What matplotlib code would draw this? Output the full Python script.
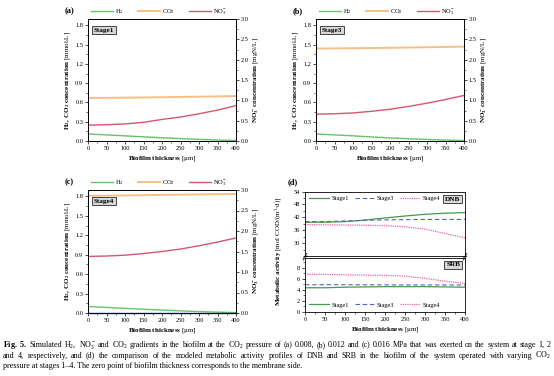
import matplotlib
matplotlib.use("Agg")
import matplotlib.pyplot as plt
from matplotlib.ticker import MultipleLocator

plt.rcParams['font.family'] = ['Liberation Serif', 'DejaVu Serif']
plt.rcParams['mathtext.fontset'] = 'custom'
plt.rcParams['mathtext.rm'] = 'Liberation Serif'
plt.rcParams['mathtext.it'] = 'Liberation Serif:italic'
plt.rcParams['mathtext.bf'] = 'Liberation Serif:bold'

# biofilm thickness [um]
x = [0, 50, 100, 150, 200, 250, 300, 350, 400]

# panels a-c : concentrations
h2_a = [0.11, 0.095, 0.08, 0.065, 0.05, 0.037, 0.025, 0.015, 0.008]
co2_a = [0.67, 0.672, 0.675, 0.678, 0.682, 0.686, 0.69, 0.695, 0.70]
no3_a = [0.39, 0.40, 0.42, 0.46, 0.53, 0.59, 0.67, 0.76, 0.87]

h2_b = [0.11, 0.095, 0.08, 0.063, 0.048, 0.035, 0.024, 0.014, 0.008]
co2_b = [1.44, 1.442, 1.445, 1.448, 1.452, 1.456, 1.46, 1.465, 1.47]
no3_b = [0.66, 0.67, 0.69, 0.73, 0.78, 0.85, 0.93, 1.02, 1.12]

h2_c = [0.10, 0.086, 0.072, 0.058, 0.045, 0.033, 0.022, 0.013, 0.007]
co2_c = [1.81, 1.813, 1.816, 1.82, 1.824, 1.828, 1.832, 1.836, 1.84]
no3_c = [1.38, 1.39, 1.41, 1.45, 1.50, 1.56, 1.64, 1.73, 1.83]
zero_c = [0, 0, 0, 0, 0, 0, 0, 0, 0]

# panel d : metabolic activity
dnb_s1 = [39.7, 39.7, 40.0, 40.7, 41.7, 42.6, 43.4, 43.9, 44.2]
dnb_s3 = [40.0, 40.0, 40.3, 40.6, 40.8, 40.9, 41.0, 41.0, 41.0]
dnb_s4 = [38.6, 38.5, 38.4, 38.3, 38.1, 37.6, 36.5, 34.5, 32.4]
srb_s1 = [4.4, 4.4, 4.5, 4.55, 4.6, 4.6, 4.6, 4.55, 4.5]
srb_s3 = [4.95, 4.95, 4.95, 4.94, 4.93, 4.92, 4.91, 4.9, 4.9]
srb_s4 = [6.85, 6.82, 6.75, 6.7, 6.65, 6.5, 6.1, 5.6, 5.2]

W, H = 554, 376
fig = plt.figure(figsize=(W / 100, H / 100), dpi=100)

FS = 4.6
c_h2, c_co2, c_no3 = '#66c466', '#f5bf86', '#d9566f'


def box(l, t, r, b):
    return [l / W, 1 - b / H, (r - l) / W, (b - t) / H]


def style(ax):
    ax.tick_params(labelsize=FS, length=2, width=0.5, pad=1.5, direction='out')
    ax.tick_params(which='minor', length=1.2, width=0.4)
    for s in ax.spines.values():
        s.set_linewidth(0.6)


def conc_panel(rect, letter, stage, h2, co2, no3, extra=None):
    ax = fig.add_axes(box(*rect))
    l1, = ax.plot(x, h2, color=c_h2, lw=1.0)
    l2, = ax.plot(x, co2, color=c_co2, lw=1.4)
    if extra is not None:
        ax.plot(x, extra, color='#1f3a8a', lw=1.0, clip_on=False, zorder=5)
    ax.set_xlim(0, 400)
    ax.set_ylim(0, 1.9)
    ax.yaxis.set_major_locator(MultipleLocator(0.3))
    ax.yaxis.set_minor_locator(MultipleLocator(0.15))
    ax.xaxis.set_major_locator(MultipleLocator(50))
    ax.xaxis.set_minor_locator(MultipleLocator(25))
    ax.yaxis.set_major_formatter(lambda v, p: f"{v:.1f}")
    style(ax)
    ax.set_xlabel(r"$\mathbf{Biofilm\ thickness}$ [μm]", fontsize=5, labelpad=2)
    ax.set_ylabel(r"$\mathbf{H_2,\ CO_2\ concentration}$ [mmol/L]", fontsize=5, labelpad=2)
    ax2 = ax.twinx()
    l3, = ax2.plot(x, no3, color=c_no3, lw=1.0)
    ax2.set_ylim(0, 3.0)
    ax2.yaxis.set_major_locator(MultipleLocator(0.5))
    ax2.yaxis.set_minor_locator(MultipleLocator(0.25))
    ax2.yaxis.set_major_formatter(lambda v, p: f"{v:.1f}")
    style(ax2)
    ax2.set_ylabel(r"$\mathbf{NO_3^-\ concentration}$ [mgN/L]", fontsize=5, labelpad=2)
    ax.text(0.04, 0.93, "Stage" + stage, transform=ax.transAxes, fontsize=5.2,
            fontweight='bold', va='top', ha='left',
            bbox=dict(boxstyle='square,pad=0.25', fc='#d9d9d9', ec='black', lw=0.5))
    ax.text(-0.16, 1.035, letter, transform=ax.transAxes, fontsize=6,
            fontweight='bold', va='bottom', ha='left')
    ax.legend([l1, l2, l3], [r"H$_2$", r"CO$_2$", r"NO$_3^-$"], ncol=3,
              loc='lower center', bbox_to_anchor=(0.48, 0.99), frameon=False,
              fontsize=FS, handlelength=3.5, handletextpad=0.3, columnspacing=2.2,
              borderaxespad=0.1)
    return ax


conc_panel((88, 19, 236, 141), "(a)", "1", h2_a, co2_a, no3_a)
conc_panel((316, 19, 464, 141), "(b)", "3", h2_b, co2_b, no3_b)
conc_panel((88, 190, 236, 313), "(c)", "4", h2_c, co2_c, no3_c, extra=zero_c)

# panel d
st = dict(s1=dict(color='#3f9c4f', ls='-', lw=0.9),
          s3=dict(color='#5563c4', ls=(0, (4, 2.5)), lw=0.8),
          s4=dict(color='#e566a8', ls=(0, (1, 0.8)), lw=0.9))
axu = fig.add_axes(box(305, 191.5, 465, 256))
axl = fig.add_axes(box(305, 258, 465, 312))
for ax, data, lo, hi, step, name in [
        (axu, (dnb_s1, dnb_s3, dnb_s4), 24, 54, 6, "DNB"),
        (axl, (srb_s1, srb_s3, srb_s4), 0, 9.8, 2, "SRB")]:
    a, = ax.plot(x, data[0], **st['s1'])
    b, = ax.plot(x, data[1], **st['s3'])
    c, = ax.plot(x, data[2], **st['s4'])
    ax.set_xlim(0, 400)
    ax.set_ylim(lo, hi)
    ax.yaxis.set_major_locator(MultipleLocator(step))
    ax.yaxis.set_minor_locator(MultipleLocator(step / 2))
    ax.xaxis.set_major_locator(MultipleLocator(50))
    ax.xaxis.set_minor_locator(MultipleLocator(25))
    style(ax)
    ax.text(0.97, 0.92, name, transform=ax.transAxes, fontsize=5.2,
            fontweight='bold', va='top', ha='right',
            bbox=dict(boxstyle='square,pad=0.25', fc='#d9d9d9', ec='black', lw=0.5))
    loc = 'upper left' if name == "DNB" else 'lower left'
    ax.legend([a, b, c], ["Stage1", "Stage3", "Stage4"], ncol=3, loc=loc,
              frameon=False, fontsize=FS, handlelength=3.0, handletextpad=0.4,
              columnspacing=1.0, borderaxespad=0.3)
axu.set_yticks([30, 36, 42, 48, 54])
axu.yaxis.set_minor_locator(MultipleLocator(3))
axu.tick_params(axis='x', which='both', bottom=False, labelbottom=False)
axl.tick_params(axis='x', which='both', top=False)
axl.set_xlabel(r"$\mathbf{Biofilm\ thickness}$ [μm]", fontsize=5, labelpad=2)
# break marks
for xx in (0, 1):
    for yy, axb in ((0, axu), (1, axl)):
        axb.plot([xx - 0.012, xx + 0.012], [yy - 0.04, yy + 0.04],
                 transform=axb.transAxes, color='black', lw=0.5, clip_on=False)
fig.text(279 / W, 1 - 251 / H, r"$\mathbf{Metabolic\ activity}$ [mol COD/(m$^3$·d)]",
         rotation=90, fontsize=5, ha='center', va='center')
fig.text(288 / W, 1 - 182 / H, "(d)", fontsize=6, fontweight='bold', ha='left', va='center')

# caption, first two lines justified
cap = [
    r"$\mathbf{Fig.\ 5.}$ Simulated H$_2$, NO$_3^-$ and CO$_2$ gradients in the biofilm at the CO$_2$ pressure of (a) 0.008, (b) 0.012 and (c) 0.016 MPa that was exerted on the system at stage 1, 2",
    r"and 4, respectively, and (d) the comparison of the modeled metabolic activity profiles of DNB and SRB in the biofilm of the system operated with varying CO$_2$",
    "pressure at stages 1\u20134. The zero point of biofilm thickness corresponds to the membrane side.",
]
CFS = 5.8
x0, x1 = 3, 551
renderer = fig.canvas.get_renderer()
for i, line in enumerate(cap):
    yy = 1 - (345 + i * 10.5) / H
    if i == 2:
        fig.text(x0 / W, yy, line, fontsize=CFS, ha='left', va='center')
        continue
    words = line.split(" ")
    if i == 0:
        words = [words[0] + " " + words[1]] + words[2:]
    ts = [fig.text(0, yy, w, fontsize=CFS, ha='left', va='center') for w in words]
    widths = [t.get_window_extent(renderer).width for t in ts]
    gap = max((x1 - x0 - sum(widths)) / (len(words) - 1), 1.0)
    pos = x0
    for t, wd in zip(ts, widths):
        t.set_x(pos / W)
        pos += wd + gap

fig.savefig("out.png", dpi=100)
